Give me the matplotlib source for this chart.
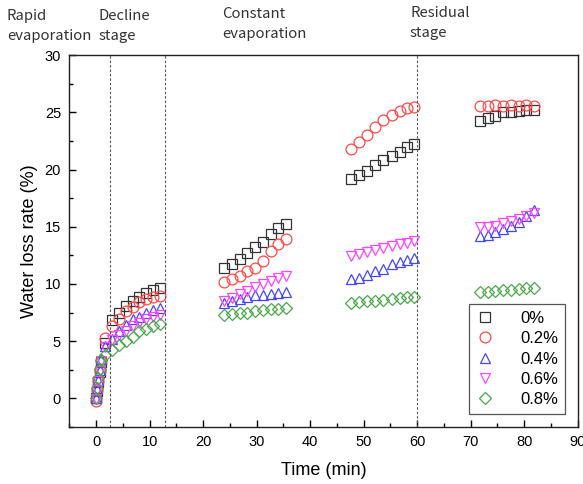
import matplotlib
matplotlib.use("Agg")
import matplotlib.pyplot as plt
from matplotlib.ticker import MultipleLocator

# ---- data ----
t_early = [0, 0.2, 0.4, 0.7, 1.0, 1.6, 2.9, 4.2, 5.5, 6.8, 8.1, 9.4, 10.7, 12.0]
t_const1 = [23.9, 25.35, 26.8, 28.25, 29.7, 31.15, 32.6, 34.05, 35.5]
t_const2 = [47.7, 49.2, 50.7, 52.2, 53.7, 55.2, 56.7, 58.1, 59.4]
t_resid = [71.7, 73.15, 74.6, 76.05, 77.5, 78.95, 80.4, 81.9]

labels = ["0%", "0.2%", "0.4%", "0.6%", "0.8%"]

early = {
    "0%":   [0, 0.6, 1.4, 2.3, 3.2, 4.8, 6.85, 7.5, 8.1, 8.5, 8.9, 9.2, 9.45, 9.6],
    "0.2%": [-0.2, 0.7, 1.5, 2.4, 3.3, 5.25, 6.3, 6.9, 7.6, 8.0, 8.4, 8.7, 8.85, 8.95],
    "0.4%": [0, 0.8, 1.6, 2.5, 3.4, 4.6, 5.2, 5.85, 6.4, 6.9, 7.15, 7.45, 7.7, 7.9],
    "0.6%": [-0.1, 0.7, 1.5, 2.4, 3.3, 4.5, 5.1, 5.5, 5.9, 6.3, 6.6, 6.9, 7.15, 7.3],
    "0.8%": [0, 0.9, 1.8, 2.6, 3.35, 3.8, 4.2, 4.65, 5.05, 5.4, 5.85, 6.1, 6.3, 6.5],
}
const1 = {
    "0%":   [11.4, 11.7, 12.2, 12.7, 13.2, 13.7, 14.4, 14.9, 15.2],
    "0.2%": [10.2, 10.4, 10.7, 11.1, 11.4, 12.0, 12.9, 13.5, 13.9],
    "0.4%": [8.3, 8.5, 8.7, 8.85, 9.0, 9.05, 9.15, 9.2, 9.25],
    "0.6%": [8.55, 8.75, 9.1, 9.4, 9.7, 10.0, 10.25, 10.5, 10.7],
    "0.8%": [7.3, 7.4, 7.45, 7.5, 7.6, 7.75, 7.8, 7.85, 7.9],
}
const2 = {
    "0%":   [19.2, 19.5, 19.9, 20.4, 20.8, 21.2, 21.5, 22.0, 22.2],
    "0.2%": [21.8, 22.4, 23.0, 23.7, 24.3, 24.8, 25.1, 25.4, 25.5],
    "0.4%": [10.4, 10.5, 10.8, 11.1, 11.3, 11.7, 11.9, 12.1, 12.3],
    "0.6%": [12.4, 12.6, 12.8, 12.95, 13.15, 13.3, 13.45, 13.6, 13.75],
    "0.8%": [8.3, 8.4, 8.5, 8.55, 8.6, 8.7, 8.75, 8.85, 8.9],
}
resid = {
    "0%":   [24.25, 24.5, 24.7, 25.0, 25.05, 25.1, 25.2, 25.25],
    "0.2%": [25.6, 25.6, 25.65, 25.6, 25.65, 25.6, 25.65, 25.6],
    "0.4%": [14.2, 14.3, 14.5, 14.8, 15.1, 15.4, 15.9, 16.5],
    "0.6%": [15.0, 14.95, 15.1, 15.3, 15.5, 15.7, 15.9, 16.2],
    "0.8%": [9.25, 9.3, 9.35, 9.45, 9.5, 9.55, 9.6, 9.65],
}

stage_bounds = [2.5, 12.8, 60]
stage_texts = ["Rapid\nevaporation", "Decline\nstage", "Constant\nevaporation", "Residual\nstage"]
xticks = list(range(0, 91, 10))
yticks = list(range(0, 31, 5))

# ---- style ----
colors = ["#333333", "#ff4a4a", "#4545ff", "#ff45ff", "#4aa84a"]
markers = ["s", "o", "^", "v", "D"]
msizes = [7, 7.8, 7.8, 7.8, 6.2]

fig = plt.figure(figsize=(5.83, 4.84), dpi=100)
ax = fig.add_axes([0.119, 0.118, 0.872, 0.768])

for i, lab in enumerate(labels):
    xs = t_early + t_const1 + t_const2 + t_resid
    ys = early[lab] + const1[lab] + const2[lab] + resid[lab]
    ax.plot(xs, ys, linestyle="none", marker=markers[i], markersize=msizes[i],
            markerfacecolor="none", markeredgecolor=colors[i], markeredgewidth=0.9,
            label=lab)

for b in stage_bounds:
    ax.axvline(b, color="#555555", linestyle=(0, (2.2, 1.8)), linewidth=0.8)

ax.set_xlim(-5, 90)
ax.set_ylim(-2.5, 30)
ax.set_xticks(xticks)
ax.set_yticks(yticks)
ax.xaxis.set_minor_locator(MultipleLocator(5))
ax.yaxis.set_minor_locator(MultipleLocator(2.5))
ax.tick_params(which="major", direction="in", length=5, width=1, labelsize=10.5,
               pad=6)
ax.tick_params(which="minor", direction="in", length=3, width=1)
for lbl in ax.get_xticklabels() + ax.get_yticklabels():
    lbl.set_fontfamily("Liberation Sans")
for sp in ax.spines.values():
    sp.set_linewidth(1.0)
    sp.set_color("#222222")

ax.set_xlabel("Time (min)", fontsize=13, fontfamily="Liberation Sans", labelpad=9)
ax.set_ylabel("Water loss rate (%)", fontsize=13, fontfamily="Liberation Sans", labelpad=5)

leg = ax.legend(loc="lower right", bbox_to_anchor=(0.975, 0.035), frameon=True,
                fancybox=False, edgecolor="#555555", framealpha=1,
                prop={"family": "Liberation Sans", "size": 12},
                handlelength=1.2, handletextpad=1.5, borderpad=0.4,
                labelspacing=0.32, borderaxespad=0)
leg.get_frame().set_linewidth(0.9)

# stage labels (figure pixel coordinates)
stage_x = [7, 99, 222, 410]
stage_y = [9, 9, 7, 6]
for sx, sy, txt in zip(stage_x, stage_y, stage_texts):
    fig.text(sx / 583, 1 - sy / 484, txt, ha="left", va="top", fontsize=10.7,
             family=["Noto Sans CJK SC", "DejaVu Sans"], color="#333333",
             linespacing=1.55)

fig.savefig("out.png", dpi=100)
